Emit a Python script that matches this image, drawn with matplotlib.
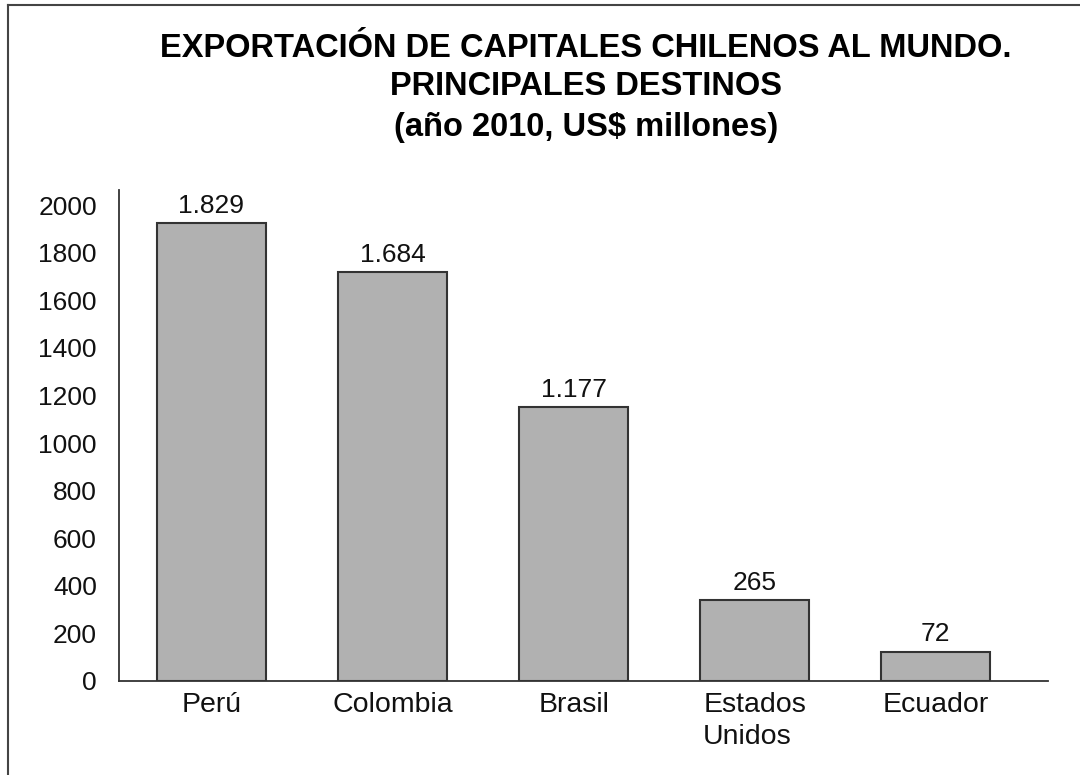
import matplotlib.pyplot as plt
from matplotlib.lines import Line2D

# datos
paises = ['Perú', 'Colombia', 'Brasil', 'Estados\nUnidos', 'Ecuador']
alturas = [1924, 1718, 1151, 340, 122]          # altura dibujada de cada barra
etiquetas = ['1.829', '1.684', '1.177', '265', '72']  # valor escrito sobre la barra
marcas_y = [0, 200, 400, 600, 800, 1000, 1200, 1400, 1600, 1800, 2000]

plt.rcParams['font.family'] = ['Liberation Sans', 'DejaVu Sans']

fig = plt.figure(figsize=(10.8, 7.75), dpi=100)
ax = fig.add_axes([0.1102, 0.1213, 0.8602, 0.6335])

x = list(range(len(paises)))
barras = ax.bar(x, alturas, width=0.6, color='#b1b1b1', edgecolor='#333333', linewidth=1.5)

for b, txt in zip(barras, etiquetas):
    ax.annotate(txt, (b.get_x() + b.get_width() / 2, b.get_height()),
                xytext=(0, 4), textcoords='offset points',
                ha='center', va='bottom', fontsize=19, color='#111111')

ax.set_xlim(-0.51, 4.62)
ax.set_ylim(0, 2063)
ax.set_yticks(marcas_y)
ax.set_yticklabels([str(v) for v in marcas_y], fontsize=19, color='#111111')
ax.set_xticks(x)
ax.set_xticklabels(paises, fontsize=20.5, color='#111111', multialignment='left', linespacing=1.3)
ax.tick_params(axis='both', length=0)
ax.tick_params(axis='y', pad=16)
ax.tick_params(axis='x', pad=8)

for lado in ['top', 'right']:
    ax.spines[lado].set_visible(False)
for lado in ['left', 'bottom']:
    ax.spines[lado].set_color('#333333')
    ax.spines[lado].set_linewidth(1.3)

fig.text(0.5426, 0.938, 'EXPORTACIÓN DE CAPITALES CHILENOS AL MUNDO.',
         ha='center', va='center', fontsize=23.5, fontweight='bold')
fig.text(0.5426, 0.889, 'PRINCIPALES DESTINOS',
         ha='center', va='center', fontsize=23.5, fontweight='bold')
fig.text(0.5426, 0.835, '(año 2010, US$ millones)',
         ha='center', va='center', fontsize=23.5, fontweight='bold')

# marco del recorte original
fig.add_artist(Line2D([8 / 1080, 8 / 1080], [0, 1 - 5 / 775], transform=fig.transFigure,
                      color='#444444', linewidth=1.5))
fig.add_artist(Line2D([8 / 1080, 1], [1 - 5 / 775, 1 - 5 / 775], transform=fig.transFigure,
                      color='#444444', linewidth=1.5))

fig.savefig('out.png', dpi=100, facecolor='white')
